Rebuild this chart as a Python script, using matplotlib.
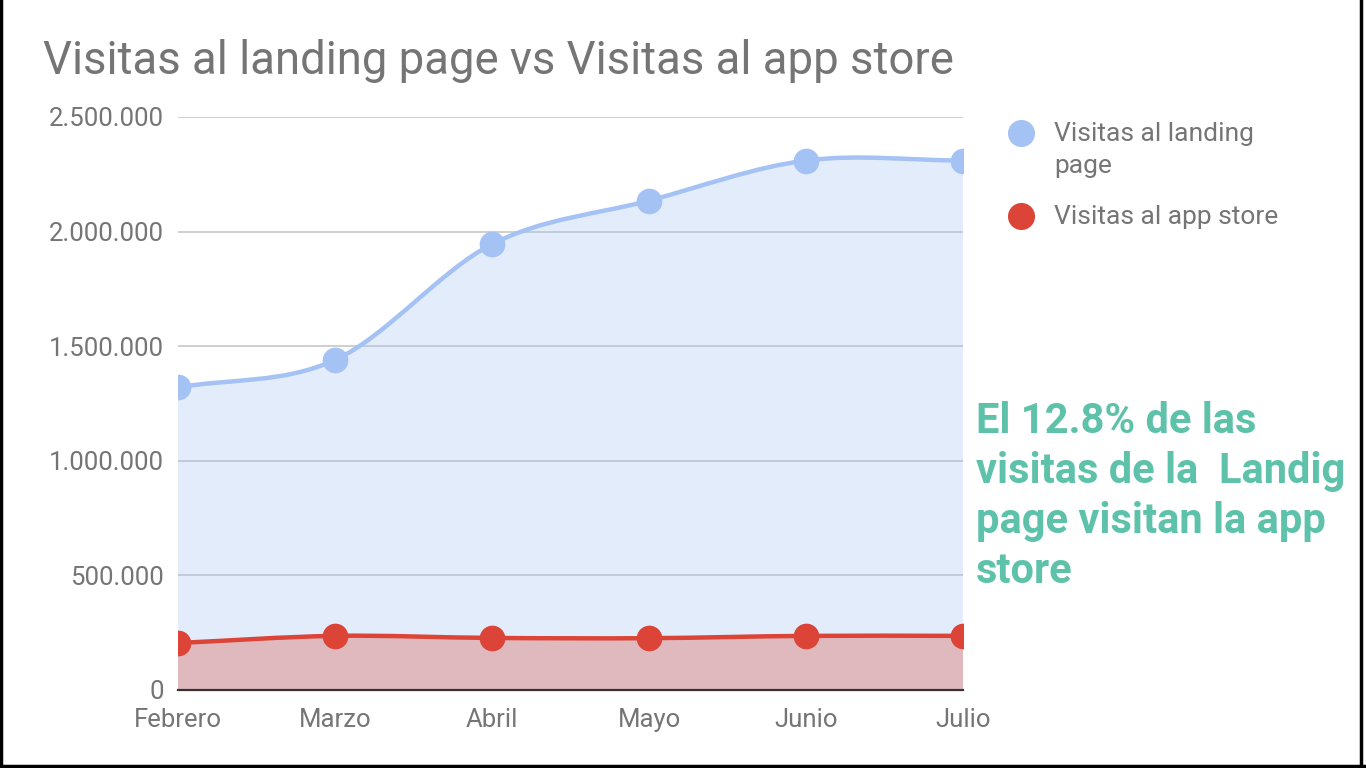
import numpy as np
import matplotlib.pyplot as plt
import matplotlib.ticker as ticker
from matplotlib.path import Path
from matplotlib.patches import PathPatch
from matplotlib.lines import Line2D

# datos
meses = ['Febrero', 'Marzo', 'Abril', 'Mayo', 'Junio', 'Julio']
landing = [1320000, 1440000, 1945000, 2135000, 2310000, 2310000]
app_store = [205000, 236000, 227000, 226000, 236000, 236000]
y_ticks = [0, 500000, 1000000, 1500000, 2000000, 2500000]

titulo = 'Visitas al landing page vs Visitas al app store'
nota = ['El 12.8% de las', 'visitas de la  Landig', 'page visitan la app', 'store']

azul = '#A4C2F4'
rojo = '#DB4437'
gris = '#757575'
verde = '#5EC2AA'

plt.rcParams['font.family'] = ['Roboto', 'DejaVu Sans']


def curva(xs, ys):
    # curva suave tipo catmull-rom pasada a bezier
    pts = np.column_stack([xs, ys]).astype(float)
    tang = np.zeros_like(pts)
    tang[1:-1] = (pts[2:] - pts[:-2]) / 2
    tang[0] = pts[1] - pts[0]
    tang[-1] = pts[-1] - pts[-2]
    verts = [tuple(pts[0])]
    codes = [Path.MOVETO]
    for i in range(len(pts) - 1):
        verts += [tuple(pts[i] + tang[i] / 3), tuple(pts[i + 1] - tang[i + 1] / 3), tuple(pts[i + 1])]
        codes += [Path.CURVE4] * 3
    return verts, codes


fig = plt.figure(figsize=(13.66, 7.68), dpi=100)
ax = fig.add_axes([0.1303, 0.1016, 0.5747, 0.7461])

x = np.arange(len(meses))
for serie, color in [(landing, azul), (app_store, rojo)]:
    verts, codes = curva(x, serie)
    relleno = Path(verts + [(x[-1], 0), (x[0], 0), (x[0], 0)],
                   codes + [Path.LINETO, Path.LINETO, Path.CLOSEPOLY])
    ax.add_patch(PathPatch(relleno, facecolor=color, alpha=0.3, edgecolor='none', zorder=2))
    ax.add_patch(PathPatch(Path(verts, codes), fill=False, edgecolor=color, lw=3.2,
                           capstyle='round', zorder=3))
    ax.plot(x, serie, 'o', color=color, markersize=18.5, markeredgewidth=0, zorder=4)

ax.set_xlim(0, len(meses) - 1)
ax.set_ylim(0, 2500000)
ax.set_xticks(x)
ax.set_xticklabels(meses)
ax.set_yticks(y_ticks)
ax.yaxis.set_major_formatter(ticker.FuncFormatter(lambda v, p: f'{int(v):,}'.replace(',', '.')))
ax.tick_params(axis='both', length=0, labelsize=18.5, colors=gris)
ax.tick_params(axis='x', pad=13)
ax.tick_params(axis='y', pad=10)
ax.grid(axis='y', color='#CCCCCC', lw=1.3)
ax.set_axisbelow(True)
for lado in ['top', 'right', 'left']:
    ax.spines[lado].set_visible(False)
ax.spines['bottom'].set_color('#333333')
ax.spines['bottom'].set_linewidth(1.6)
ax.spines['bottom'].set_zorder(5)

fig.text(43 / 1366, 1 - 61 / 768, titulo, fontsize=32.8, color=gris, va='center', ha='left')

# leyenda
fig.add_artist(Line2D([1021 / 1366], [1 - 133 / 768], marker='o', color=azul,
                      markersize=19.5, markeredgewidth=0, transform=fig.transFigure))
fig.add_artist(Line2D([1021 / 1366], [1 - 216 / 768], marker='o', color=rojo,
                      markersize=19.5, markeredgewidth=0, transform=fig.transFigure))
fig.text(1054 / 1366, 1 - 134 / 768, 'Visitas al landing', fontsize=19, color=gris, va='center')
fig.text(1054 / 1366, 1 - 166 / 768, 'page', fontsize=19, color=gris, va='center')
fig.text(1054 / 1366, 1 - 217 / 768, 'Visitas al app store', fontsize=19, color=gris, va='center')

# nota
for i, linea in enumerate(nota):
    fig.text(976 / 1366, 1 - (433 + 50 * i) / 768, linea, fontsize=30, fontweight='bold',
             color=verde, va='baseline', ha='left')

# marco negro
for xs, ys in [([0.001, 0.001], [0, 1]), ([0.9965, 0.9965], [0, 1]), ([0, 1], [0.002, 0.002])]:
    fig.add_artist(Line2D(xs, ys, color='black', lw=2.5, transform=fig.transFigure))

fig.savefig('out.png', dpi=100)
